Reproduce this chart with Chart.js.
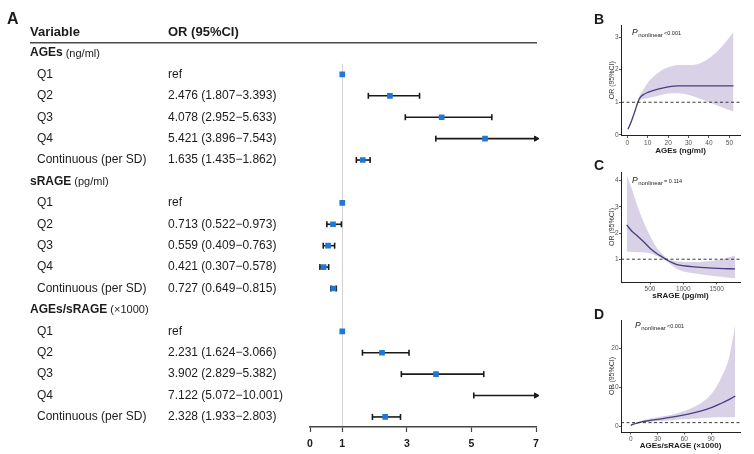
<!DOCTYPE html>
<html>
<head>
<meta charset="utf-8">
<script src="https://cdn.jsdelivr.net/npm/chart.js@4.4.1/dist/chart.umd.min.js"></script>
<style>
  html, body { margin: 0; padding: 0; background: #fff; }
  body { width: 754px; height: 454px; position: relative; overflow: hidden; }
  canvas { position: absolute; }
  #forest { left: 0; top: 0; }
  #panelB { left: 548px; top: 0; }
  #panelC { left: 548px; top: 160px; }
  #panelD { left: 548px; top: 305px; }
</style>
</head>
<body>
<canvas id="forest" width="548" height="454"></canvas>
<canvas id="panelB" width="206" height="160"></canvas>
<canvas id="panelC" width="206" height="145"></canvas>
<canvas id="panelD" width="206" height="149"></canvas>
<script>
// ---------- data: forest plot (A) ----------
const groupNames = ['AGEs', 'sRAGE', 'AGEs/sRAGE'];
const groupUnits = ['(ng/ml)', '(pg/ml)', '(×1000)'];
const levelLabels = ['Q1', 'Q2', 'Q3', 'Q4', 'Continuous (per SD)'];

const agesOR   = [1, 2.476, 4.078, 5.421, 1.635];
const agesLow  = [null, 1.807, 2.952, 3.896, 1.435];
const agesHigh = [null, 3.393, 5.633, 7.543, 1.862];

const sragOR   = [1, 0.713, 0.559, 0.421, 0.727];
const sragLow  = [null, 0.522, 0.409, 0.307, 0.649];
const sragHigh = [null, 0.973, 0.763, 0.578, 0.815];

const ratioOR   = [1, 2.231, 3.902, 7.122, 2.328];
const ratioLow  = [null, 1.624, 2.829, 5.072, 1.933];
const ratioHigh = [null, 3.066, 5.382, 10.001, 2.803];

const forestTicks = [0, 1, 3, 5, 7];

// ---------- data: spline panels (B, C, D) ----------
const agesX     = [0.3, 2, 4, 5, 6, 8, 10, 15, 20, 25, 30, 35, 40, 45, 52];
const agesFit   = [0.17, 0.42, 0.78, 0.97, 1.12, 1.24, 1.3, 1.4, 1.47, 1.5, 1.5, 1.5, 1.5, 1.5, 1.5];
const agesUpper = [0.2, 0.46, 0.82, 1.02, 1.2, 1.4, 1.6, 1.9, 2.07, 2.14, 2.14, 2.18, 2.35, 2.62, 3.15];
const agesLower = [0.14, 0.38, 0.74, 0.93, 1.05, 1.1, 1.12, 1.2, 1.27, 1.28, 1.23, 1.12, 1.0, 0.88, 0.72];
const agesXTicks = [0, 10, 20, 30, 40, 50];
const agesYTicks = [0, 1, 2, 3];

const sragX     = [150, 225, 324, 424, 500, 600, 675, 750, 850, 925, 1125, 1325, 1525, 1775];
const sragFit   = [2.31, 2.08, 1.86, 1.62, 1.42, 1.22, 1.1, 0.98, 0.85, 0.78, 0.72, 0.68, 0.65, 0.63];
const sragUpper = [4.22, 3.7, 2.95, 2.31, 1.9, 1.45, 1.23, 1.04, 0.95, 0.91, 0.89, 0.91, 0.97, 1.14];
const sragLower = [1.29, 1.28, 1.27, 1.26, 1.23, 1.12, 1.04, 0.92, 0.72, 0.6, 0.47, 0.4, 0.34, 0.27];
const sragXTicks = [500, 1000, 1500];
const sragYTicks = [1, 2, 3, 4];

const ratioX     = [0, 3, 7, 12, 20, 30, 46, 60, 68, 80, 91, 101, 110, 117];
const ratioFit   = [0.3, 0.6, 0.9, 1.2, 1.5, 1.85, 2.4, 3.0, 3.4, 4.1, 4.9, 5.9, 6.9, 7.8];
const ratioUpper = [0.4, 0.8, 1.1, 1.5, 2.0, 2.4, 3.0, 4.0, 4.7, 6.2, 8.5, 12.4, 17.5, 26];
const ratioLower = [0.2, 0.45, 0.75, 0.95, 1.15, 1.35, 1.6, 1.9, 2.0, 2.2, 2.3, 2.35, 2.4, 2.45];
const ratioXTicks = [0, 30, 60, 90];
const ratioYTicks = [0, 10, 20];

const pTexts = ['<0.001', '= 0.114', '<0.001'];

// ---------- styles ----------
const FONT = '"Liberation Sans", Arial, Helvetica, sans-serif';
const TEXT = '#1b1b1b';
const POINT_BLUE = '#1f78d6';
const BAND = '#d9d2e6';
const FIT_LINE = '#463e7e';
const X_MAX = 7;

// ========== Panel A: forest plot ==========
const groups = [
  { or: agesOR, low: agesLow, high: agesHigh },
  { or: sragOR, low: sragLow, high: sragHigh },
  { or: ratioOR, low: ratioLow, high: ratioHigh }
];

const rows = [];
const points = [];
const bars = [];
groups.forEach((g, gi) => {
  const base = gi * (levelLabels.length + 1);
  rows.push({ kind: 'group', row: base, name: groupNames[gi], unit: groupUnits[gi] });
  levelLabels.forEach((lab, li) => {
    const r = base + 1 + li;
    const lo = g.low[li], hi = g.high[li];
    const txt = lo == null ? 'ref'
      : `${g.or[li].toFixed(3)} (${lo.toFixed(3)}\u2212${hi.toFixed(3)})`;
    rows.push({ kind: 'level', row: r, name: lab, text: txt });
    if (g.or[li] <= X_MAX) points.push({ x: g.or[li], y: r });
    if (lo != null) bars.push({ lo, hi, row: r });
  });
});

// one small line dataset per confidence interval; truncated ones end in an arrow
const barSets = bars.map(b => {
  const clipped = b.hi > X_MAX;
  return {
    type: 'line',
    showLine: true,
    clip: false,
    data: [{ x: b.lo, y: b.row }, { x: Math.min(b.hi, X_MAX), y: b.row }],
    borderColor: '#1a1a1a',
    borderWidth: 1.6,
    pointStyle: ['line', clipped ? 'triangle' : 'line'],
    pointRotation: 90,
    pointRadius: [3, 3],
    pointBorderWidth: [1.6, clipped ? 1 : 1.6],
    pointBorderColor: '#1a1a1a',
    pointBackgroundColor: '#1a1a1a',
    order: 2
  };
});

const forestTable = {
  id: 'forestTable',
  afterDraw(chart) {
    const ctx = chart.ctx;
    const ys = chart.scales.y;
    ctx.save();
    ctx.fillStyle = TEXT;
    ctx.textBaseline = 'alphabetic';
    ctx.font = `bold 16px ${FONT}`;
    ctx.fillText('A', 7, 24);

    ctx.textBaseline = 'middle';
    ctx.font = `bold 13px ${FONT}`;
    ctx.fillText('Variable', 30, 32.5);
    ctx.fillText('OR (95%CI)', 168, 32.5);

    ctx.strokeStyle = '#4a4a4a';
    ctx.lineWidth = 1.5;
    ctx.beginPath();
    ctx.moveTo(30, 42.7);
    ctx.lineTo(537, 42.7);
    ctx.stroke();

    rows.forEach(r => {
      const y = ys.getPixelForValue(r.row);
      if (r.kind === 'group') {
        ctx.font = `bold 12px ${FONT}`;
        ctx.fillText(r.name, 30, y);
        const w = ctx.measureText(r.name).width;
        ctx.font = `11px ${FONT}`;
        ctx.fillText(r.unit, 30 + w + 3, y + 0.5);
      } else {
        ctx.font = `12px ${FONT}`;
        ctx.fillText(r.name, 37, y);
        ctx.fillText(r.text, 168, y);
      }
    });
    ctx.restore();
  }
};

new Chart(document.getElementById('forest'), {
  type: 'scatter',
  data: {
    datasets: [
      {
        type: 'scatter',
        data: points,
        pointStyle: 'rect',
        pointRadius: 4,
        backgroundColor: POINT_BLUE,
        borderColor: POINT_BLUE,
        borderWidth: 0,
        order: 1
      },
      ...barSets
    ]
  },
  options: {
    responsive: false,
    animation: false,
    events: [],
    layout: { padding: { left: 310, right: 12, top: 63.7, bottom: 0 } },
    plugins: { legend: { display: false }, tooltip: { enabled: false } },
    scales: {
      x: {
        type: 'linear',
        min: 0,
        max: X_MAX,
        afterBuildTicks: s => { s.ticks = forestTicks.map(v => ({ value: v })); },
        afterFit: s => { s.height = 27; },
        grid: {
          color: c => (c.tick && c.tick.value === 1 ? '#d2d2d2' : 'transparent'),
          lineWidth: 1,
          tickColor: '#444',
          tickLength: 5,
          tickWidth: 1.2
        },
        border: { display: true, color: '#444', width: 1.5 },
        ticks: {
          font: { size: 10.5, weight: 'bold', family: FONT },
          color: TEXT,
          padding: 6,
          maxRotation: 0,
          callback: v => String(v)
        }
      },
      y: {
        type: 'linear',
        display: false,
        reverse: true,
        min: 0.5,
        max: 17.47
      }
    }
  },
  plugins: [forestTable]
});

// ========== Panels B, C, D: spline curves ==========
function splinePanel(id, o) {
  const pts = ys => o.x.map((v, i) => ({ x: v, y: ys[i] }));
  const decor = {
    id: 'decor' + id,
    afterDatasetsDraw(chart) {
      // dashed reference at OR = 1
      const { ctx, chartArea: ca, scales } = chart;
      const yRef = scales.y.getPixelForValue(1);
      ctx.save();
      ctx.strokeStyle = '#222';
      ctx.lineWidth = 0.9;
      ctx.setLineDash([3, 2.5]);
      ctx.beginPath();
      ctx.moveTo(ca.left, yRef);
      ctx.lineTo(ca.right, yRef);
      ctx.stroke();
      ctx.restore();
    },
    afterDraw(chart) {
      const { ctx, chartArea: ca } = chart;
      ctx.save();
      ctx.fillStyle = TEXT;
      ctx.textBaseline = 'alphabetic';
      ctx.font = `bold 14px ${FONT}`;
      ctx.fillText(o.letter, 46, o.letterY);

      let x = ca.left + o.pDx;
      const y = ca.top + o.pDy;
      ctx.fillStyle = '#222';
      ctx.font = `italic 8.5px ${FONT}`;
      ctx.fillText('P', x, y);
      x += ctx.measureText('P').width + 0.5;
      ctx.font = `6px ${FONT}`;
      ctx.fillText('nonlinear', x, y + 1.5);
      x += ctx.measureText('nonlinear').width + 1.2;
      ctx.font = `5.5px ${FONT}`;
      ctx.fillText(o.pText, x, y - 0.5);
      ctx.restore();
    }
  };

  return new Chart(document.getElementById(id), {
    type: 'scatter',
    data: {
      datasets: [
        { data: pts(o.upper), showLine: true, fill: '+1', backgroundColor: BAND,
          borderWidth: 0, pointRadius: 0, cubicInterpolationMode: 'monotone', order: 3 },
        { data: pts(o.lower), showLine: true, fill: false, backgroundColor: BAND,
          borderWidth: 0, pointRadius: 0, cubicInterpolationMode: 'monotone', order: 4 },
        { data: pts(o.fit), showLine: true, fill: false, borderColor: FIT_LINE,
          borderWidth: 1.3, pointRadius: 0, cubicInterpolationMode: 'monotone', order: 1 }
      ]
    },
    options: {
      responsive: false,
      animation: false,
      events: [],
      layout: { padding: { left: 58, right: 14, top: o.padTop, bottom: 0 } },
      plugins: { legend: { display: false }, tooltip: { enabled: false } },
      scales: {
        x: {
          type: 'linear',
          min: o.xMin,
          max: o.xMax,
          afterBuildTicks: s => { s.ticks = o.xTicks.map(v => ({ value: v })); },
          afterFit: s => { s.height = o.xAxisH; },
          grid: { drawOnChartArea: false, tickLength: 2.5, tickColor: '#333', tickWidth: 0.8 },
          border: { display: true, color: '#222', width: 1 },
          ticks: { font: { size: 6.5, family: FONT }, color: '#555', padding: 1, maxRotation: 0,
                   callback: v => String(v) },
          title: { display: true, text: o.xTitle, color: TEXT,
                   font: { size: 8, weight: 'bold', family: FONT },
                   padding: { top: 0, bottom: o.xTitlePad } }
        },
        y: {
          type: 'linear',
          min: o.yMin,
          max: o.yMax,
          afterBuildTicks: s => { s.ticks = o.yTicks.map(v => ({ value: v })); },
          afterFit: s => { s.width = 15; },
          grid: { drawOnChartArea: false, tickLength: 2, tickColor: '#333', tickWidth: 0.8 },
          border: { display: true, color: '#222', width: 1 },
          ticks: { font: { size: 6.5, family: FONT }, color: '#555', padding: 0.5,
                   callback: v => String(v) },
          title: { display: true, text: 'OR (95%CI)', color: '#333',
                   font: { size: 7, family: FONT },
                   padding: { top: 2.3, bottom: 0 } }
        }
      }
    },
    plugins: [decor]
  });
}

splinePanel('panelB', {
  letter: 'B', letterY: 24, pText: pTexts[0], pDx: 11, pDy: 10,
  x: agesX, fit: agesFit, upper: agesUpper, lower: agesLower,
  xTicks: agesXTicks, yTicks: agesYTicks,
  xMin: -3.1, xMax: 55.2, yMin: -0.02, yMax: 3.37,
  padTop: 25, xAxisH: 24.5, xTitlePad: 4.2, xTitle: 'AGEs (ng/ml)'
});

splinePanel('panelC', {
  letter: 'C', letterY: 10, pText: pTexts[1], pDx: 11, pDy: 11,
  x: sragX, fit: sragFit, upper: sragUpper, lower: sragLower,
  xTicks: sragXTicks, yTicks: sragYTicks,
  xMin: 65, xMax: 1850, yMin: 0.13, yMax: 4.33,
  padTop: 12, xAxisH: 23, xTitlePad: 4.2, xTitle: 'sRAGE (pg/ml)'
});

splinePanel('panelD', {
  letter: 'D', letterY: 13.5, pText: pTexts[2], pDx: 14, pDy: 8,
  x: ratioX, fit: ratioFit, upper: ratioUpper, lower: ratioLower,
  xTicks: ratioXTicks, yTicks: ratioYTicks,
  xMin: -11, xMax: 122.4, yMin: -1.4, yMax: 27.3,
  padTop: 15, xAxisH: 22, xTitlePad: 3.5, xTitle: 'AGEs/sRAGE (×1000)'
});
</script>
</body>
</html>
